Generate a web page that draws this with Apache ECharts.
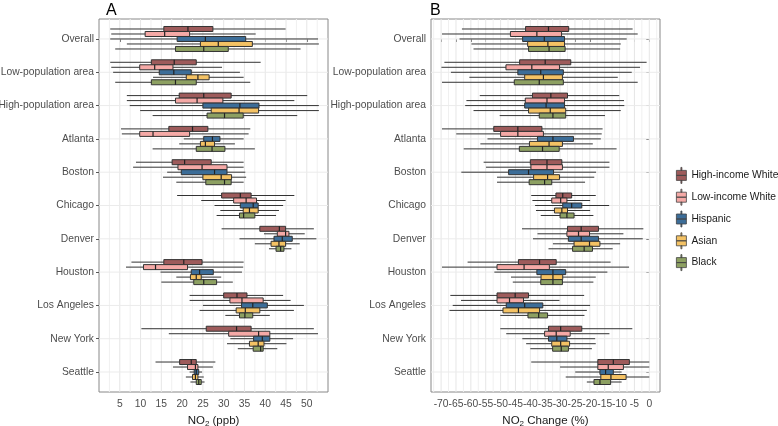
<!DOCTYPE html>
<html>
<head>
<meta charset="utf-8">
<script src="https://cdn.jsdelivr.net/npm/echarts@6/dist/echarts.min.js"></script>
<style>
  html, body { margin: 0; padding: 0; background: #fff; }
  #chart { width: 778px; height: 426px; }
</style>
</head>
<body>
<div id="chart"></div>
<script>
// categories (top to bottom) and groups (top to bottom inside each category)
const categories = ['Overall', 'Low-population area', 'High-population area', 'Atlanta', 'Boston',
  'Chicago', 'Denver', 'Houston', 'Los Angeles', 'New York', 'Seattle']
const groups = ['High-income White', 'Low-income White', 'Hispanic', 'Asian', 'Black']

// each row: [lower whisker, Q1, median, Q3, upper whisker]
// panel A, NO2 (ppb)
const no2HighIncome = [
  [2.7, 15.6, 21.4, 27.4, 44.9], [2.7, 12.6, 18.1, 23.4, 38.9], [6.7, 19.3, 25.2, 31.8, 50.1],
  [5.3, 16.8, 22.5, 26.2, 36.4], [8.9, 17.6, 20.6, 27.0, 34.8], [18.8, 29.5, 34.0, 36.6, 47.0],
  [29.5, 38.7, 43.4, 44.9, 51.7], [7.8, 15.6, 20.4, 24.8, 34.8], [21.8, 30.0, 33.2, 35.6, 44.3],
  [10.2, 25.8, 33.1, 36.6, 51.7], [13.6, 19.4, 22.2, 23.4, 28.0]
]
const no2LowIncome = [
  [2.95, 11.1, 15.8, 21.8, 37.7], [2.95, 9.8, 13.4, 17.8, 29.6], [6.7, 18.4, 23.6, 29.8, 47.0],
  [5.5, 9.8, 13.0, 21.8, 36.0], [8.2, 19.0, 24.8, 30.8, 34.8], [24.6, 32.4, 35.4, 37.9, 44.9],
  [39.7, 42.9, 44.9, 45.7, 49.5], [6.5, 10.7, 13.6, 21.3, 34.7], [21.8, 31.5, 34.4, 39.5, 46.1],
  [16.8, 31.2, 38.4, 41.1, 52.7], [17.8, 21.3, 23.2, 23.8, 27.4]
]
const no2Hispanic = [
  [2.7, 18.8, 25.6, 35.3, 52.7], [3.4, 14.5, 18.0, 22.2, 33.9], [7.4, 25.0, 33.9, 38.5, 52.9],
  [20.4, 25.2, 27.3, 29.1, 34.8], [16.4, 19.8, 27.8, 30.8, 35.2], [27.8, 34.0, 37.1, 38.3, 44.3],
  [33.8, 42.1, 44.1, 46.5, 52.3], [14.8, 22.2, 24.2, 27.5, 34.4], [25.0, 34.3, 37.0, 40.5, 49.3],
  [31.6, 37.2, 39.3, 41.1, 46.7], [21.8, 22.9, 23.4, 24.0, 24.8]
]
const no2Asian = [
  [6.7, 24.4, 28.7, 36.9, 52.9], [13.0, 21.0, 23.8, 26.5, 34.8], [9.9, 27.0, 33.7, 38.4, 52.9],
  [19.3, 24.4, 25.6, 27.8, 32.7], [15.4, 25.0, 29.4, 31.9, 35.4], [29.2, 34.7, 36.2, 38.3, 43.3],
  [37.5, 41.4, 43.3, 44.9, 48.3], [18.6, 22.0, 23.4, 24.6, 29.4], [24.2, 33.0, 35.2, 38.7, 46.9],
  [30.8, 36.2, 38.3, 39.7, 45.1], [20.9, 22.5, 23.2, 23.8, 25.2]
]
const no2Black = [
  [3.9, 18.4, 25.2, 31.1, 48.5], [3.9, 12.6, 18.4, 23.4, 36.4], [12.9, 26.0, 30.2, 34.7, 47.7],
  [12.9, 23.4, 27.2, 30.3, 37.5], [18.6, 25.7, 30.2, 31.8, 34.8], [28.3, 33.8, 34.8, 37.5, 42.6],
  [40.9, 42.6, 43.7, 44.5, 46.3], [15.0, 22.8, 25.2, 28.3, 32.2], [30.4, 33.8, 35.1, 37.0, 41.1],
  [33.4, 37.1, 38.9, 39.5, 42.9], [22.0, 23.4, 24.0, 24.6, 25.4]
]

// panel B, NO2 change (%)
const chgHighIncome = [
  [-63.0, -41.6, -33.9, -27.1, -5.6], [-68.9, -43.6, -35.0, -26.4, -0.9], [-57.0, -39.3, -33.1, -27.5, -10.1],
  [-69.7, -52.3, -44.2, -36.1, -15.7], [-55.7, -40.0, -34.4, -29.4, -13.4], [-39.7, -31.4, -29.1, -26.1, -18.0],
  [-42.8, -27.5, -22.9, -17.1, -2.0], [-61.1, -44.0, -36.9, -31.3, -13.0], [-66.9, -51.2, -45.1, -40.6, -21.9],
  [-50.1, -33.9, -29.8, -22.7, -5.7], [-39.7, -17.3, -12.1, -6.7, 0]
]
const chgLowIncome = [
  [-69.7, -46.7, -37.8, -29.5, -3.9], [-69.9, -48.2, -39.5, -30.2, -3.1], [-61.5, -41.7, -34.4, -28.5, -8.5],
  [-64.9, -50.0, -44.2, -35.6, -16.0], [-54.9, -39.8, -34.4, -29.2, -13.4], [-39.3, -32.8, -29.8, -27.7, -19.9],
  [-37.6, -27.7, -23.8, -20.1, -8.7], [-69.7, -51.2, -42.1, -33.6, -6.8], [-63.3, -51.2, -47.0, -42.3, -30.2],
  [-48.1, -35.2, -31.3, -26.6, -13.4], [-30.0, -17.3, -13.8, -8.7, 0]
]
const chgHispanic = [
  [-63.8, -42.6, -35.3, -28.5, -7.6], [-66.7, -44.2, -36.5, -28.9, -5.9], [-61.9, -41.9, -34.7, -28.5, -8.4],
  [-54.4, -37.6, -32.4, -25.5, -16.3], [-63.2, -47.3, -40.6, -32.2, -17.9], [-38.4, -29.1, -26.1, -22.7, -13.5],
  [-39.1, -27.2, -22.9, -17.1, -2.2], [-52.1, -37.8, -32.4, -28.1, -14.1], [-66.1, -48.1, -41.9, -35.8, -19.9],
  [-42.7, -33.9, -31.1, -27.7, -18.2], [-24.9, -16.6, -14.7, -12.1, -9.3]
]
const chgAsian = [
  [-59.8, -40.9, -34.1, -28.5, -9.6], [-60.5, -41.9, -35.6, -29.2, -10.6], [-59.1, -40.6, -33.3, -28.1, -9.6],
  [-56.8, -40.3, -33.7, -29.2, -19.0], [-51.2, -38.9, -34.2, -30.2, -18.5], [-38.1, -31.9, -29.4, -27.5, -19.9],
  [-32.4, -25.3, -20.1, -16.6, -9.8], [-46.5, -36.4, -32.4, -29.1, -18.0], [-67.2, -49.2, -44.0, -36.9, -21.0],
  [-41.4, -32.8, -29.8, -26.8, -18.0], [-28.1, -16.3, -12.9, -7.8, 0]
]
const chgBlack = [
  [-59.1, -40.6, -33.7, -28.3, -9.8], [-69.7, -45.4, -37.0, -28.9, -3.9], [-50.3, -37.0, -32.4, -28.1, -14.9],
  [-62.4, -43.7, -35.9, -30.3, -11.0], [-51.2, -40.4, -35.2, -32.8, -21.6], [-36.5, -30.0, -27.7, -25.3, -18.8],
  [-33.9, -25.8, -21.9, -19.1, -12.3], [-45.9, -36.5, -32.4, -29.2, -18.8], [-50.1, -40.8, -37.2, -34.2, -21.8],
  [-40.0, -32.5, -29.6, -27.2, -19.3], [-21.0, -18.6, -16.6, -13.0, -9.3]
]

// tick labels
const ticksNo2 = [5, 10, 15, 20, 25, 30, 35, 40, 45, 50]
const ticksChange = [-70, -65, -60, -55, -50, -45, -40, -35, -30, -25, -20, -15, -10, -5, 0]

const no2Rows = [no2HighIncome, no2LowIncome, no2Hispanic, no2Asian, no2Black]
const chgRows = [chgHighIncome, chgLowIncome, chgHispanic, chgAsian, chgBlack]
const colors = ['#9e5b5b', '#f5a9a6', '#3c6d98', '#f4c264', '#8da062']

const FONT = '"Liberation Sans", Arial, sans-serif'
const rowStep = 0.15 // dodge spacing, in category units
const boxHalf = 0.075

const chart = echarts.init(document.getElementById('chart'))

// box + whisker + median for one group
function boxRenderer(gi) {
  return function (params, api) {
    const yc = api.value(0) + (gi - 2) * rowStep
    const lo = api.coord([api.value(1), yc])
    const q1 = api.coord([api.value(2), yc])
    const md = api.coord([api.value(3), yc])
    const q3 = api.coord([api.value(4), yc])
    const hi = api.coord([api.value(5), yc])
    const a = api.coord([api.value(2), yc - boxHalf])[1]
    const b = api.coord([api.value(2), yc + boxHalf])[1]
    const top = Math.min(a, b)
    const h = Math.abs(b - a)
    return {
      type: 'group',
      children: [
        { type: 'line', shape: { x1: lo[0], y1: lo[1], x2: hi[0], y2: hi[1] }, style: { stroke: '#333', lineWidth: 1 } },
        { type: 'rect', shape: { x: q1[0], y: top, width: q3[0] - q1[0], height: h }, style: { fill: api.visual('color'), stroke: '#333', lineWidth: 1 } },
        { type: 'line', shape: { x1: md[0], y1: top, x2: md[0], y2: top + h }, style: { stroke: '#222', lineWidth: 1.2 } },
      ],
    }
  }
}

// background grid: major/minor verticals at ticks, horizontals at categories
function gridLines(ticks, xmin) {
  const step = ticks[1] - ticks[0]
  const items = ticks.map((t) => [t, 0, 0])
  items.push([ticks[0] - step / 2, 0, 1])
  ticks.forEach((t) => items.push([t + step / 2, 0, 1]))
  categories.forEach((c, i) => items.push([xmin, i, 2]))
  return items
}

function gridRenderer(params, api) {
  const cs = params.coordSys
  const kind = api.value(2)
  if (kind === 2) {
    const y = api.coord([api.value(0), api.value(1)])[1]
    return { type: 'line', shape: { x1: cs.x, y1: y, x2: cs.x + cs.width, y2: y }, style: { stroke: '#ebebeb', lineWidth: 1 } }
  }
  const x = api.coord([api.value(0), 0])[0]
  return {
    type: 'line',
    shape: { x1: x, y1: cs.y, x2: x, y2: cs.y + cs.height },
    style: { stroke: kind === 0 ? '#e6e6e6' : '#f0f0f0', lineWidth: 1 },
  }
}

const series = []
;[no2Rows, chgRows].forEach((panel, p) => {
  series.push({
    type: 'custom',
    xAxisIndex: p,
    yAxisIndex: p,
    silent: true,
    z: 1,
    data: gridLines(p === 0 ? ticksNo2 : ticksChange, p === 0 ? 0 : -73.4),
    renderItem: gridRenderer,
  })
  panel.forEach((rows, gi) => {
    series.push({
      type: 'custom',
      name: groups[gi],
      xAxisIndex: p,
      yAxisIndex: p,
      z: 3,
      clip: true,
      itemStyle: { color: colors[gi] },
      encode: { x: [1, 2, 3, 4, 5], y: 0 },
      data: rows.map((r, i) => [i, ...r]),
      renderItem: boxRenderer(gi),
    })
  })
})

const labelStyle = { fontSize: 10.3, color: '#4d4d4d', fontFamily: FONT }

function xAxisFor(gridIndex, min, max, ticks, nameParts) {
  return {
    type: 'value',
    gridIndex,
    min,
    max,
    axisLine: { show: false },
    axisTick: { customValues: ticks, length: 3, lineStyle: { color: '#555' } },
    axisLabel: Object.assign({ customValues: ticks, margin: 7 }, labelStyle),
    splitLine: { show: false },
    name: nameParts,
    nameLocation: 'middle',
    nameGap: 22,
    nameTextStyle: {
      fontFamily: FONT,
      rich: {
        a: { fontSize: 11.5, color: '#1a1a1a', lineHeight: 14, fontFamily: FONT },
        s: { fontSize: 8, color: '#1a1a1a', lineHeight: 8, verticalAlign: 'bottom', fontFamily: FONT },
      },
    },
  }
}

function yAxisFor(gridIndex) {
  const idx = categories.map((c, i) => i)
  return {
    type: 'value',
    gridIndex,
    inverse: true,
    min: -0.6,
    max: 10.6,
    axisLine: { show: false },
    axisTick: { customValues: idx, length: 3, lineStyle: { color: '#555' } },
    axisLabel: Object.assign({ customValues: idx, margin: 5, formatter: (v) => categories[Math.round(v)] }, labelStyle),
    splitLine: { show: false },
  }
}

const option = {
  animation: false,
  backgroundColor: '#fff',
  textStyle: { fontFamily: FONT },
  title: [
    { text: 'A', left: 106, top: 3, padding: 0, textStyle: { fontSize: 16, fontWeight: 'normal', color: '#000', fontFamily: FONT } },
    { text: 'B', left: 430, top: 3, padding: 0, textStyle: { fontSize: 16, fontWeight: 'normal', color: '#000', fontFamily: FONT } },
  ],
  grid: [
    { left: 99, top: 19, width: 229, height: 373, outerBoundsMode: 'none', containLabel: false, show: true, borderColor: '#888', borderWidth: 1, backgroundColor: '#fff' },
    { left: 431, top: 19, width: 229, height: 373, outerBoundsMode: 'none', containLabel: false, show: true, borderColor: '#888', borderWidth: 1, backgroundColor: '#fff' },
  ],
  xAxis: [
    xAxisFor(0, 0, 55.1, ticksNo2, '{a|NO}{s|2}{a| (ppb)}'),
    xAxisFor(1, -73.4, 3.6, ticksChange, '{a|NO}{s|2}{a| Change (%)}'),
  ],
  yAxis: [yAxisFor(0), yAxisFor(1)],
  legend: {
    data: groups,
    orient: 'vertical',
    left: 676,
    top: 167,
    padding: 0,
    itemWidth: 10,
    itemHeight: 16,
    itemGap: 5,
    icon: 'path://M4.5,0L5.5,0L5.5,3L4.5,3Z M0,3L10,3L10,8L0,8Z M0,8L10,8L10,13L0,13Z M4.5,13L5.5,13L5.5,16L4.5,16Z',
    itemStyle: { borderColor: '#444', borderWidth: 0.8 },
    textStyle: { fontSize: 10.3, color: '#1a1a1a', fontFamily: FONT },
  },
  series,
}

chart.setOption(option)
</script>
</body>
</html>
